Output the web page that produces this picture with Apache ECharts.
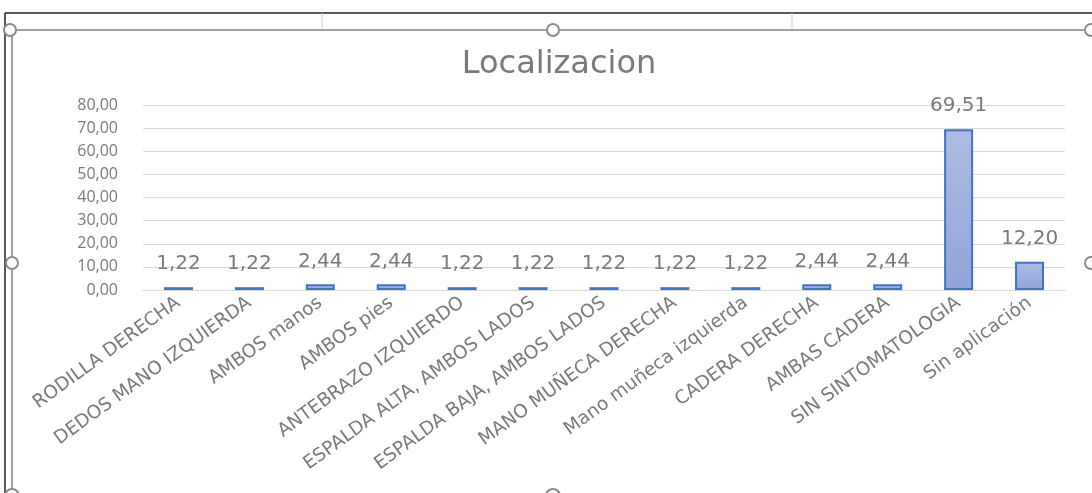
<!DOCTYPE html>
<html>
<head>
<meta charset="utf-8">
<script src="https://cdn.jsdelivr.net/npm/echarts@6/dist/echarts.min.js"></script>
<style>
    html, body { margin: 0; padding: 0; background: #fff; }
    #chart { width: 1092px; height: 493px; }
</style>
</head>
<body>
<div id="chart"></div>
<script>
// datos del grafico
var categorias = ['RODILLA DERECHA', 'DEDOS MANO IZQUIERDA', 'AMBOS manos', 'AMBOS pies',
    'ANTEBRAZO IZQUIERDO', 'ESPALDA ALTA, AMBOS LADOS', 'ESPALDA BAJA, AMBOS LADOS',
    'MANO MUÑECA DERECHA', 'Mano muñeca izquierda', 'CADERA DERECHA', 'AMBAS CADERA',
    'SIN SINTOMATOLOGIA', 'Sin aplicación'];
var porcentajes = [1.22, 1.22, 2.44, 2.44, 1.22, 1.22, 1.22, 1.22, 1.22, 2.44, 2.44, 69.51, 12.20];
var ejeMin = 0, ejeMax = 80, ejePaso = 10;

var coma = function (v) {
    return Number(v).toFixed(2).replace('.', ',');
};
var gris = '#7a7a7a';
var fuente = '"Open Sans", "Noto Sans", sans-serif';
var ancha = '"DejaVu Sans", sans-serif';

var myChart = echarts.init(document.getElementById('chart'));
var option = {
    animation: false,
    title: {
        text: 'Localizacion',
        left: 554,
        top: 44,
        textAlign: 'center',
        textStyle: { color: gris, fontSize: 32, fontWeight: 'normal', fontFamily: ancha }
    },
    grid: { left: 143, right: 27, top: 105, bottom: 203 },
    xAxis: {
        type: 'category',
        data: categorias,
        axisLine: { show: true, lineStyle: { color: '#d9d9d9', width: 1 } },
        axisTick: { show: false },
        axisLabel: {
            interval: 0,
            rotate: 36,
            margin: 11,
            color: gris,
            fontSize: 18.5,
            fontFamily: ancha
        }
    },
    yAxis: {
        type: 'value',
        min: ejeMin,
        max: ejeMax,
        interval: ejePaso,
        axisLine: { show: false },
        axisTick: { show: false },
        splitLine: { lineStyle: { color: '#d9d9d9', width: 1 } },
        axisLabel: {
            color: gris,
            fontSize: 16,
            margin: 25,
            fontFamily: fuente,
            formatter: function (v) { return coma(v); }
        }
    },
    series: [{
        type: 'bar',
        data: porcentajes,
        barWidth: 29,
        itemStyle: {
            color: new echarts.graphic.LinearGradient(0, 0, 0, 1, [
                { offset: 0, color: '#adbce3' },
                { offset: 1, color: '#8fa4d8' }
            ]),
            borderColor: '#4472c4',
            borderWidth: 2
        },
        label: {
            show: true,
            position: 'top',
            distance: 13,
            color: gris,
            fontSize: 20,
            fontFamily: ancha,
            formatter: function (p) { return coma(p.value); }
        }
    }],
    // marco de seleccion de Excel
    graphic: [
        { type: 'line', shape: { x1: 5, y1: 13, x2: 1092, y2: 13 }, style: { stroke: '#222', lineWidth: 1.5 } },
        { type: 'line', shape: { x1: 5, y1: 13, x2: 5, y2: 493 }, style: { stroke: '#222', lineWidth: 1.5 } },
        { type: 'line', shape: { x1: 322, y1: 13, x2: 322, y2: 30 }, style: { stroke: '#d0d0d0', lineWidth: 1 } },
        { type: 'line', shape: { x1: 792, y1: 13, x2: 792, y2: 30 }, style: { stroke: '#d0d0d0', lineWidth: 1 } },
        { type: 'line', shape: { x1: 12, y1: 30, x2: 1092, y2: 30 }, style: { stroke: '#a0a0a0', lineWidth: 2 } },
        { type: 'line', shape: { x1: 12, y1: 30, x2: 12, y2: 493 }, style: { stroke: '#a0a0a0', lineWidth: 2 } },
        { type: 'circle', shape: { cx: 10, cy: 30, r: 6 }, style: { fill: '#fff', stroke: '#8a8a8a', lineWidth: 2 } },
        { type: 'circle', shape: { cx: 553, cy: 30, r: 6 }, style: { fill: '#fff', stroke: '#8a8a8a', lineWidth: 2 } },
        { type: 'circle', shape: { cx: 1091, cy: 30, r: 6 }, style: { fill: '#fff', stroke: '#8a8a8a', lineWidth: 2 } },
        { type: 'circle', shape: { cx: 12, cy: 263, r: 6 }, style: { fill: '#fff', stroke: '#8a8a8a', lineWidth: 2 } },
        { type: 'circle', shape: { cx: 1091, cy: 263, r: 6 }, style: { fill: '#fff', stroke: '#8a8a8a', lineWidth: 2 } },
        { type: 'circle', shape: { cx: 553, cy: 496, r: 7 }, style: { fill: '#fff', stroke: '#8a8a8a', lineWidth: 2 } },
        { type: 'circle', shape: { cx: 12, cy: 496, r: 7 }, style: { fill: '#fff', stroke: '#8a8a8a', lineWidth: 2 } }
    ]
};
myChart.setOption(option);
</script>
</body>
</html>
